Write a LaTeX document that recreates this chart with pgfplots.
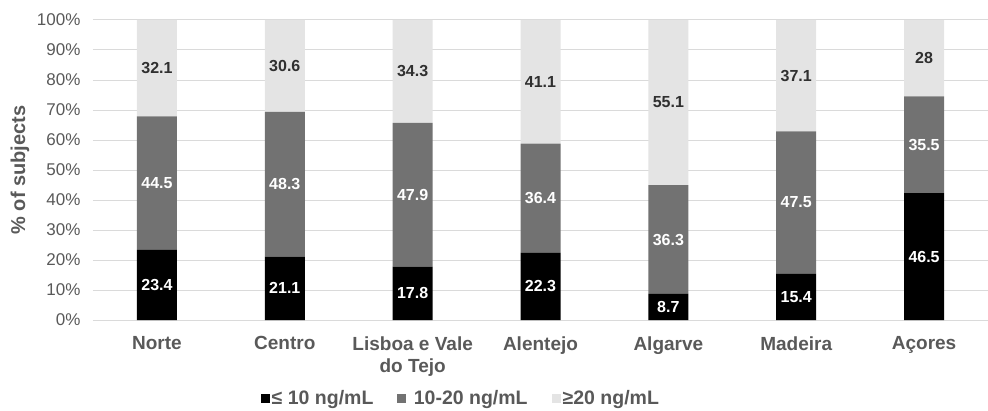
\documentclass[border=0pt]{standalone}
\usepackage{pgfplots}
\usepackage{pgfplotstable}
\pgfplotsset{compat=1.18}
\usepackage{fontspec}
\setmainfont{Liberation Sans}

\definecolor{lowc}{HTML}{000000}
\definecolor{midc}{HTML}{727272}
\definecolor{highc}{HTML}{E4E4E4}
\definecolor{gridc}{HTML}{DADADA}
\definecolor{textc}{HTML}{595959}
\definecolor{darklab}{HTML}{303030}

% share of subjects (%) in each 25(OH)D class, by region
\pgfplotstableread{
x lo mid hi
0 23.4 44.5 32.1
1 21.1 48.3 30.6
2 17.8 47.9 34.3
3 22.3 36.4 41.1
4 8.7 36.3 55.1
5 15.4 47.5 37.1
6 46.5 35.5 28
}\vitd

\newcommand{\tot}{(\thisrow{lo}+\thisrow{mid}+\thisrow{hi})}

\begin{document}
\begin{tikzpicture}
\pgfplotsset{
  base/.style={
    scale only axis, width=895pt, height=300pt,
    xmin=-0.5, xmax=6.5, ymin=0, ymax=100,
  },
  sq legend/.style={legend image code/.code={\fill[##1] (0pt,-4.5pt) rectangle (9pt,4.5pt);}},
  lab/.style={draw=none, mark=none, nodes near coords, point meta=explicit symbolic,
    nodes near coords style={anchor=center, font=\bfseries\fontsize{16}{18}\selectfont, text=#1}},
}
\begin{axis}[base,
  ybar stacked, bar width=40pt,
  axis x line*=bottom, axis y line*=left,
  axis line style={draw=none}, major tick length=0pt,
  ymajorgrids, grid style={gridc, line width=1pt},
  ytick={0,10,...,100},
  yticklabel={\pgfmathprintnumber{\tick}\%},
  /pgf/number format/assume math mode=true,
  yticklabel style={font=\fontsize{17}{19}\selectfont, text=textc, xshift=-9pt},
  xtick={0,...,6},
  xticklabels={Norte, Centro, {Lisboa e Vale\\do Tejo}, Alentejo, Algarve, Madeira, Açores},
  xticklabel style={align=center, font=\bfseries\fontsize{19}{22}\selectfont, text=textc, yshift=-13pt},
  ylabel={\% of subjects},
  every axis y label/.style={at={(axis description cs:0,0.5)}, xshift=-73pt, rotate=90, anchor=center,
    font=\bfseries\fontsize{20}{22}\selectfont, text=textc},
  legend columns=3,
  legend style={draw=none, fill=none, at={(axis description cs:0.411,0)}, anchor=center, yshift=-78pt,
    font=\bfseries\fontsize{19.5}{21}\selectfont, text=textc,
    /tikz/every even column/.append style={column sep=22pt}},
]
\addplot[fill=lowc, draw=none, sq legend] table[x=x, y expr={100*\thisrow{lo}/\tot}] {\vitd};
\addlegendentry{≤ 10 ng/mL}
\addplot[fill=midc, draw=none, sq legend] table[x=x, y expr={100*\thisrow{mid}/\tot}] {\vitd};
\addlegendentry{\ 10-20 ng/mL}
\addplot[fill=highc, draw=none, sq legend] table[x=x, y expr={100*\thisrow{hi}/\tot}] {\vitd};
\addlegendentry{≥20 ng/mL}
\end{axis}
% value labels, centred in each segment
\begin{axis}[base, hide axis]
\addplot[lab=white] table[x=x, y expr={100*0.5*\thisrow{lo}/\tot}, meta=lo] {\vitd};
\addplot[lab=white] table[x=x, y expr={100*(\thisrow{lo}+0.5*\thisrow{mid})/\tot}, meta=mid] {\vitd};
\addplot[lab=darklab] table[x=x, y expr={100*(\thisrow{lo}+\thisrow{mid}+0.5*\thisrow{hi})/\tot}, meta=hi] {\vitd};
\end{axis}
\pgfresetboundingbox
\path (-93pt,-90pt) rectangle (895pt,320pt);
\end{tikzpicture}
\end{document}
